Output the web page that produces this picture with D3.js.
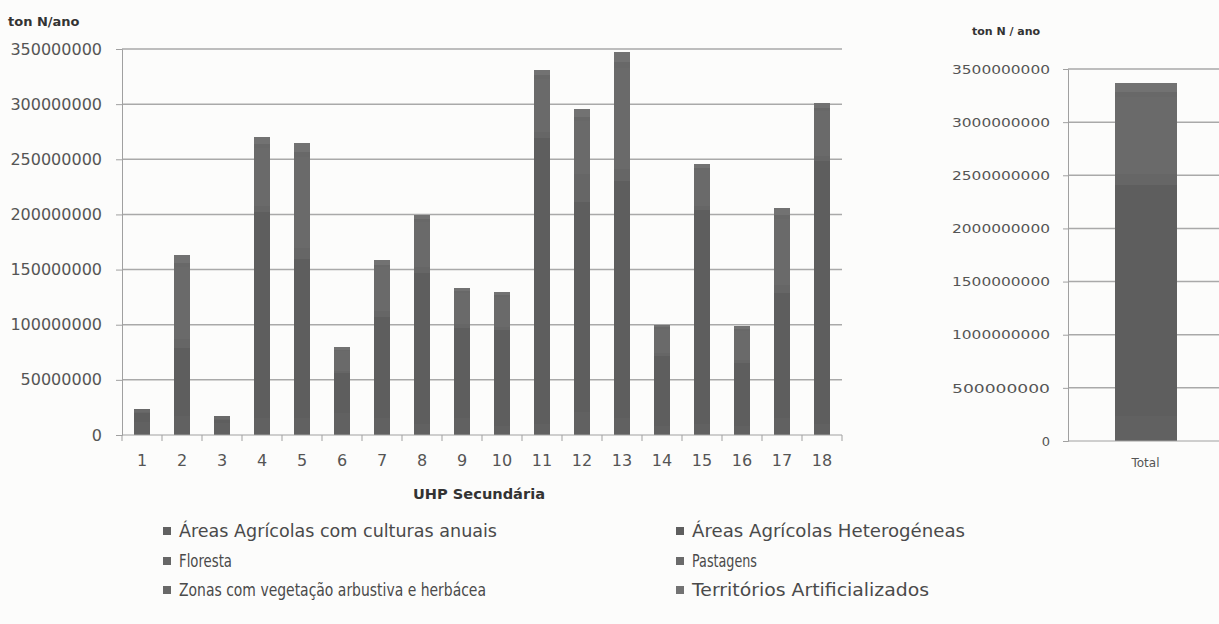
<!DOCTYPE html>
<html><head><meta charset="utf-8">
<script src="https://cdn.jsdelivr.net/npm/d3@7"></script>
<style>
html,body{margin:0;padding:0;background:#fcfcfb;}
svg{display:block;}
text{font-family:"DejaVu Sans",sans-serif;}
</style></head>
<body>
<svg id="chart" width="1219" height="624"></svg>
<script>
// ---- data ----
const categories = ["1","2","3","4","5","6","7","8","9","10","11","12","13","14","15","16","17","18"];
const seriesNames = [
  "Áreas Agrícolas com culturas anuais",
  "Áreas Agrícolas Heterogéneas",
  "Floresta",
  "Pastagens",
  "Zonas com vegetação arbustiva e herbácea",
  "Territórios Artificializados"
];
// values in ton N/ano (millions), per UHP secundária
const culturasAnuais   = [12, 17, 11, 15, 15, 20, 15, 10, 15, 8, 10, 21, 15, 8, 10, 8, 15, 10];
const heterogeneas     = [8, 62, 3, 187, 145, 36, 92, 137, 82, 87, 259, 190, 215, 64, 194, 57, 114, 238];
const floresta         = [0.5, 8, 0.4, 6, 10, 2, 5, 5, 3.5, 3, 6, 26, 11, 2.5, 4, 3, 7, 5];
const pastagens        = [2.5, 65, 2.5, 52, 82, 18, 40, 41, 28, 27, 48, 48, 92, 22, 32, 26, 60, 41];
const zonasArbustiva   = [0.2, 4, 0.2, 4, 5, 1.5, 2.5, 2.5, 2, 2, 3, 3, 5, 1.5, 2, 2, 3.5, 2.5];
const territorios      = [0.4, 7, 0.4, 6, 7.5, 2.5, 4.2, 4, 3, 3, 5, 7.6, 9, 2, 3.4, 2.8, 6, 4.5];
const yTicksMain  = [0, 50000000, 100000000, 150000000, 200000000, 250000000, 300000000, 350000000];
const yTicksTotal = [0, 500000000, 1000000000, 1500000000, 2000000000, 2500000000, 3000000000, 3500000000];
const totalCategory = ["Total"];
const colors = ["#616161", "#5e5e5e", "#666666", "#6a6a6a", "#686868", "#727272"];

const seriesValues = [culturasAnuais, heterogeneas, floresta, pastagens, zonasArbustiva, territorios];
const M = 1e6;
const rows = categories.map((c, i) => {
  const r = {cat: c};
  seriesNames.forEach((s, j) => r[s] = seriesValues[j][i] * M);
  return r;
});
const totalRow = {cat: "Total"};
seriesNames.forEach((s, j) => totalRow[s] = d3.sum(seriesValues[j]) * M);

const svg = d3.select("#chart");
const gridColor = "#a9a9a9", axisColor = "#a0a0a0", textColor = "#555";

// ---- main chart ----
const x = d3.scaleBand().domain(categories).range([122, 842]).paddingInner(0.58).paddingOuter(0.29);
const y = d3.scaleLinear().domain([0, 350000000]).range([435, 49]);

svg.append("g").selectAll("line").data(yTicksMain.filter(d => d > 0)).join("line")
  .attr("x1", 122).attr("x2", 842).attr("y1", d => y(d)).attr("y2", d => y(d))
  .attr("stroke", gridColor).attr("stroke-width", 1.5);

const stack = d3.stack().keys(seriesNames);
const stacked = stack(rows);
svg.append("g").attr("shape-rendering", "crispEdges").selectAll("g").data(stacked).join("g")
  .attr("fill", (d, i) => colors[i])
  .selectAll("rect").data(d => d).join("rect")
  .attr("x", d => x(d.data.cat)).attr("width", x.bandwidth())
  .attr("y", d => y(d[1])).attr("height", d => Math.max(0, y(d[0]) - y(d[1])));

const yAxis = svg.append("g").attr("transform", "translate(122,0)")
  .call(d3.axisLeft(y).tickValues(yTicksMain).tickFormat(d3.format("d")).tickSize(6).tickPadding(14));
yAxis.select(".domain").attr("stroke", axisColor);
yAxis.selectAll(".tick line").attr("stroke", axisColor);
yAxis.selectAll("text").attr("fill", textColor).style("font-size", "16px");

const xAxis = svg.append("g").attr("transform", "translate(0,435)")
  .call(d3.axisBottom(x).tickSize(0).tickPadding(20));
xAxis.select(".domain").attr("stroke", axisColor).attr("d", "M122,0H842");
xAxis.selectAll("text").attr("fill", textColor).style("font-size", "16px");
// category separator ticks
svg.append("g").selectAll("line").data(categories.concat(["end"])).join("line")
  .attr("x1", (d, i) => 122 + i * x.step()).attr("x2", (d, i) => 122 + i * x.step())
  .attr("y1", 435).attr("y2", 441).attr("stroke", axisColor);

svg.append("text").attr("x", 8).attr("y", 26).text("ton N/ano")
  .attr("fill", "#333").style("font-size", "13px").style("font-weight", "bold");
svg.append("text").attr("x", 479).attr("y", 499).attr("text-anchor", "middle").text("UHP Secundária")
  .attr("fill", "#333").style("font-size", "14px").style("font-weight", "bold")
  .attr("textLength", 132).attr("lengthAdjust", "spacingAndGlyphs");

// ---- total chart ----
const x2 = d3.scaleBand().domain(totalCategory).range([1068, 1223]).paddingInner(0.6).paddingOuter(0.3);
const y2 = d3.scaleLinear().domain([0, 3500000000]).range([441, 69]);

svg.append("g").selectAll("line").data(yTicksTotal.filter(d => d > 0)).join("line")
  .attr("x1", 1068).attr("x2", 1219).attr("y1", d => y2(d)).attr("y2", d => y2(d))
  .attr("stroke", gridColor).attr("stroke-width", 1.5);

const stackedT = stack([totalRow]);
svg.append("g").attr("shape-rendering", "crispEdges").selectAll("g").data(stackedT).join("g")
  .attr("fill", (d, i) => colors[i])
  .selectAll("rect").data(d => d).join("rect")
  .attr("x", d => x2(d.data.cat)).attr("width", x2.bandwidth())
  .attr("y", d => y2(d[1])).attr("height", d => Math.max(0, y2(d[0]) - y2(d[1])));

const y2Axis = svg.append("g").attr("transform", "translate(1068,0)")
  .call(d3.axisLeft(y2).tickValues(yTicksTotal).tickFormat(d3.format("d")).tickSize(5).tickPadding(13));
y2Axis.select(".domain").attr("stroke", axisColor);
y2Axis.selectAll(".tick line").attr("stroke", axisColor);
y2Axis.selectAll("text").attr("fill", textColor).style("font-size", "13px")
  .attr("textLength", 98).attr("lengthAdjust", "spacingAndGlyphs");
y2Axis.selectAll(".tick").filter(d => d === 0).select("text").attr("textLength", null);

const x2Axis = svg.append("g").attr("transform", "translate(0,441)")
  .call(d3.axisBottom(x2).tickSize(0).tickPadding(17));
x2Axis.select(".domain").attr("stroke", axisColor).attr("d", "M1068,0H1219");
x2Axis.selectAll("text").attr("fill", textColor).style("font-size", "12px");

svg.append("text").attr("x", 972).attr("y", 35).text("ton N / ano")
  .attr("fill", "#333").style("font-size", "11px").style("font-weight", "bold");

// ---- legend ----
const legendPos = [[163, 531], [676, 531], [163, 561], [676, 561], [163, 590], [676, 590]];
const legendWidths = [318, 273, 53, 65, 307, 237];
const lg = svg.append("g").selectAll("g").data(seriesNames).join("g")
  .attr("transform", (d, i) => `translate(${legendPos[i][0]},${legendPos[i][1]})`);
lg.append("rect").attr("x", 0).attr("y", -4).attr("width", 8).attr("height", 8)
  .attr("fill", (d, i) => colors[i]);
lg.append("text").attr("x", 16).attr("y", 6).text(d => d)
  .attr("fill", "#4a4a4a").style("font-size", "17px")
  .attr("textLength", (d, i) => legendWidths[i]).attr("lengthAdjust", "spacingAndGlyphs");
</script>
</body></html>
